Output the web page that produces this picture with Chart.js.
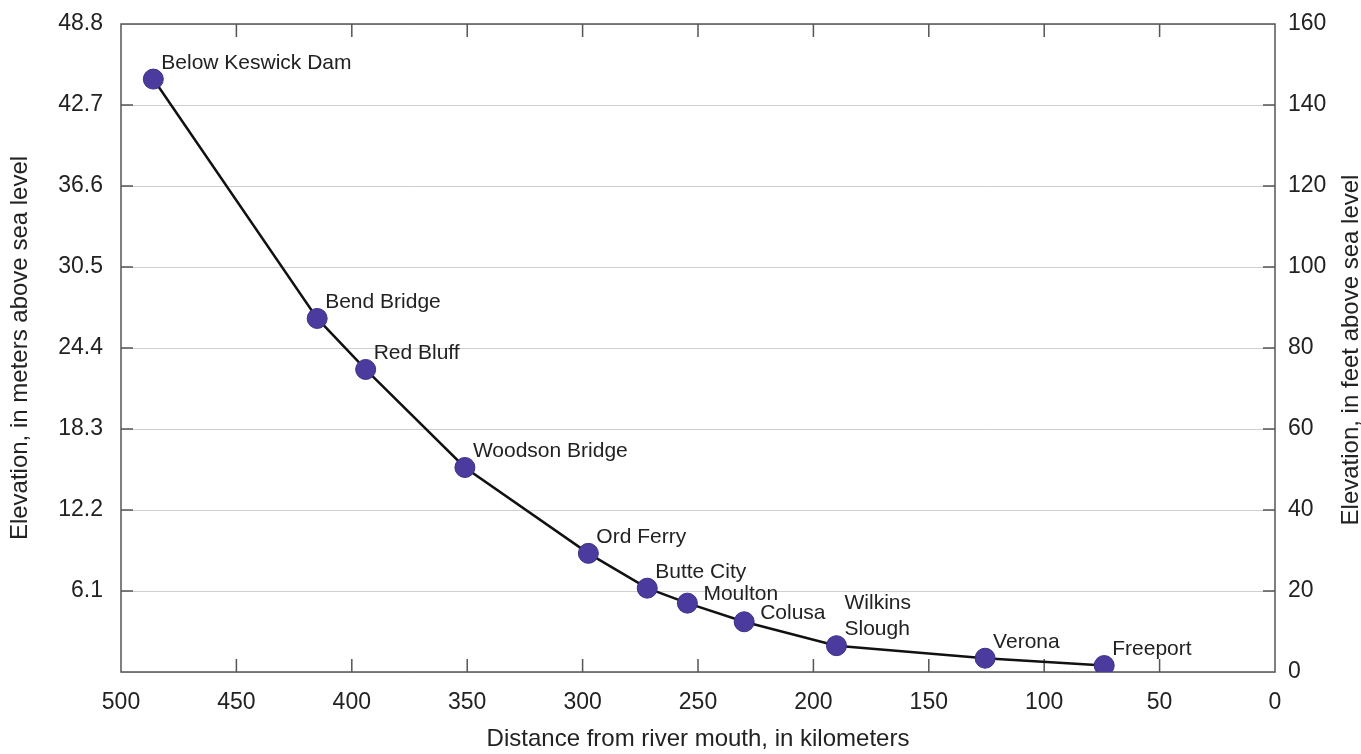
<!DOCTYPE html>
<html>
<head>
<meta charset="utf-8">
<title>Sacramento River profile</title>
<script src="https://cdn.jsdelivr.net/npm/chart.js@4/dist/chart.umd.min.js"></script>
<style>
    body { margin: 0; background: #fff; }
    #chart { display: block; }
</style>
</head>
<body>
<canvas id="chart" width="1361" height="754"></canvas>
<script>
// ---------------- DATA ----------------
const stations = [
    "Below Keswick Dam", "Bend Bridge", "Red Bluff", "Woodson Bridge",
    "Ord Ferry", "Butte City", "Moulton", "Colusa",
    ["Wilkins", "Slough"], "Verona", "Freeport"
];
const distanceKm = [486, 415, 394, 351, 297.5, 272, 254.6, 230, 190, 125.6, 74];
const elevationFt = [146.4, 87.3, 74.7, 50.5, 29.3, 20.7, 17.0, 12.4, 6.5, 3.4, 1.6];

const kmTicks = [500, 450, 400, 350, 300, 250, 200, 150, 100, 50, 0];
const feetTicks = [0, 20, 40, 60, 80, 100, 120, 140, 160];
const meterLabels = ["", "6.1", "12.2", "18.3", "24.4", "30.5", "36.6", "42.7", "48.8"];

// which side of the dot each station name sits
const labelSide = ["up", "up", "up", "up", "up", "up", "right", "right", "up", "up", "up"];

const FONT = "'Liberation Sans', Arial, Helvetica, sans-serif";
const TEXT = "#222";

// ---------------- FRAME + INWARD TICKS ----------------
const framePlugin = {
    id: "frame",
    beforeDatasetsDraw(chart) {
        const ctx = chart.ctx;
        const a = chart.chartArea;
        const x = chart.scales.x;
        const y = chart.scales.y;

        ctx.save();
        ctx.strokeStyle = "#555";
        ctx.lineWidth = 1.5;

        ctx.beginPath();
        kmTicks.forEach(v => {
            if (v === 0 || v === 500) return;
            const px = x.getPixelForValue(v);
            ctx.moveTo(px, a.bottom);
            ctx.lineTo(px, a.bottom - 13);
            ctx.moveTo(px, a.top);
            ctx.lineTo(px, a.top + 13);
        });
        feetTicks.forEach(v => {
            if (v === 0 || v === 160) return;
            const py = y.getPixelForValue(v);
            ctx.moveTo(a.left, py);
            ctx.lineTo(a.left + 12, py);
            ctx.moveTo(a.right, py);
            ctx.lineTo(a.right - 12, py);
        });
        ctx.stroke();

        ctx.strokeRect(a.left, a.top, a.right - a.left, a.bottom - a.top);
        ctx.restore();
    }
};

// ---------------- STATION NAMES + RIGHT TITLE ----------------
const labelPlugin = {
    id: "stationLabels",
    afterDatasetsDraw(chart) {
        const ctx = chart.ctx;
        const meta = chart.getDatasetMeta(0);

        ctx.save();
        ctx.fillStyle = TEXT;
        ctx.font = "21px " + FONT;
        ctx.textAlign = "left";
        ctx.textBaseline = "middle";

        meta.data.forEach((pt, i) => {
            const lines = [].concat(stations[i]);
            let dx = 8, dy = -16;
            if (labelSide[i] === "right") { dx = 16; dy = -9; }
            lines.forEach((line, j) => {
                const off = (lines.length - 1 - j) * 26;
                ctx.fillText(line, pt.x + dx, pt.y + dy - off);
            });
        });

        // right axis title reads bottom-to-top like the left one
        const a = chart.chartArea;
        ctx.translate(1351, (a.top + a.bottom) / 2 + 2);
        ctx.rotate(-Math.PI / 2);
        ctx.textAlign = "center";
        ctx.font = "24px " + FONT;
        ctx.fillText("Elevation, in feet above sea level", 0, 0);
        ctx.restore();
    }
};

// y axes: fixed width, no extra room above/below for the end labels
function fitY(width) {
    return s => {
        s.width = width;
        s.paddingTop = 0;
        s.paddingBottom = 0;
    };
}

// ---------------- CREATE CHART ----------------
function createChart() {
    const ctx = document.getElementById("chart");

    new Chart(ctx, {
        type: "line",
        data: {
            datasets: [{
                label: "Elevation",
                data: distanceKm.map((d, i) => ({ x: d, y: elevationFt[i] })),
                borderColor: "#111",
                borderWidth: 2.5,
                tension: 0,
                pointRadius: 10,
                pointBackgroundColor: "#4b3b9f",
                pointBorderColor: "#3c2f85",
                pointBorderWidth: 1,
                yAxisID: "y"
            }]
        },
        options: {
            responsive: false,
            animation: false,
            devicePixelRatio: 1,
            layout: { padding: { top: 24, left: 0, right: 0, bottom: 0 } },
            plugins: {
                legend: { display: false },
                tooltip: { enabled: false }
            },
            scales: {
                x: {
                    type: "linear",
                    reverse: true,
                    min: 0,
                    max: 500,
                    afterBuildTicks: s => { s.ticks = kmTicks.map(v => ({ value: v })); },
                    ticks: {
                        font: { size: 23, family: FONT },
                        color: TEXT,
                        padding: 17,
                        maxRotation: 0
                    },
                    grid: { display: false, drawTicks: false },
                    border: { display: false },
                    title: {
                        display: true,
                        text: "Distance from river mouth, in kilometers",
                        font: { size: 24, family: FONT },
                        color: TEXT,
                        padding: { top: 0, bottom: 0 }
                    },
                    afterFit: s => { s.height = 82; }
                },
                y: {
                    position: "left",
                    min: 0,
                    max: 160,
                    afterBuildTicks: s => { s.ticks = feetTicks.map(v => ({ value: v })); },
                    ticks: {
                        font: { size: 23, family: FONT },
                        color: TEXT,
                        padding: 18,
                        callback: (v, i) => meterLabels[i]
                    },
                    grid: { color: "#cfcfcf", lineWidth: 1, drawTicks: false },
                    border: { display: false },
                    title: {
                        display: true,
                        text: "Elevation, in meters above sea level",
                        font: { size: 24, family: FONT },
                        color: TEXT,
                        padding: { top: 6, bottom: 0 }
                    },
                    afterFit: fitY(121)
                },
                y2: {
                    position: "right",
                    min: 0,
                    max: 160,
                    afterBuildTicks: s => { s.ticks = feetTicks.map(v => ({ value: v })); },
                    ticks: {
                        font: { size: 23, family: FONT },
                        color: TEXT,
                        padding: 13
                    },
                    grid: { display: false, drawTicks: false },
                    border: { display: false },
                    afterFit: fitY(86)
                }
            }
        },
        plugins: [framePlugin, labelPlugin]
    });
}

// ---------------- INIT ----------------
createChart();
</script>
</body>
</html>
